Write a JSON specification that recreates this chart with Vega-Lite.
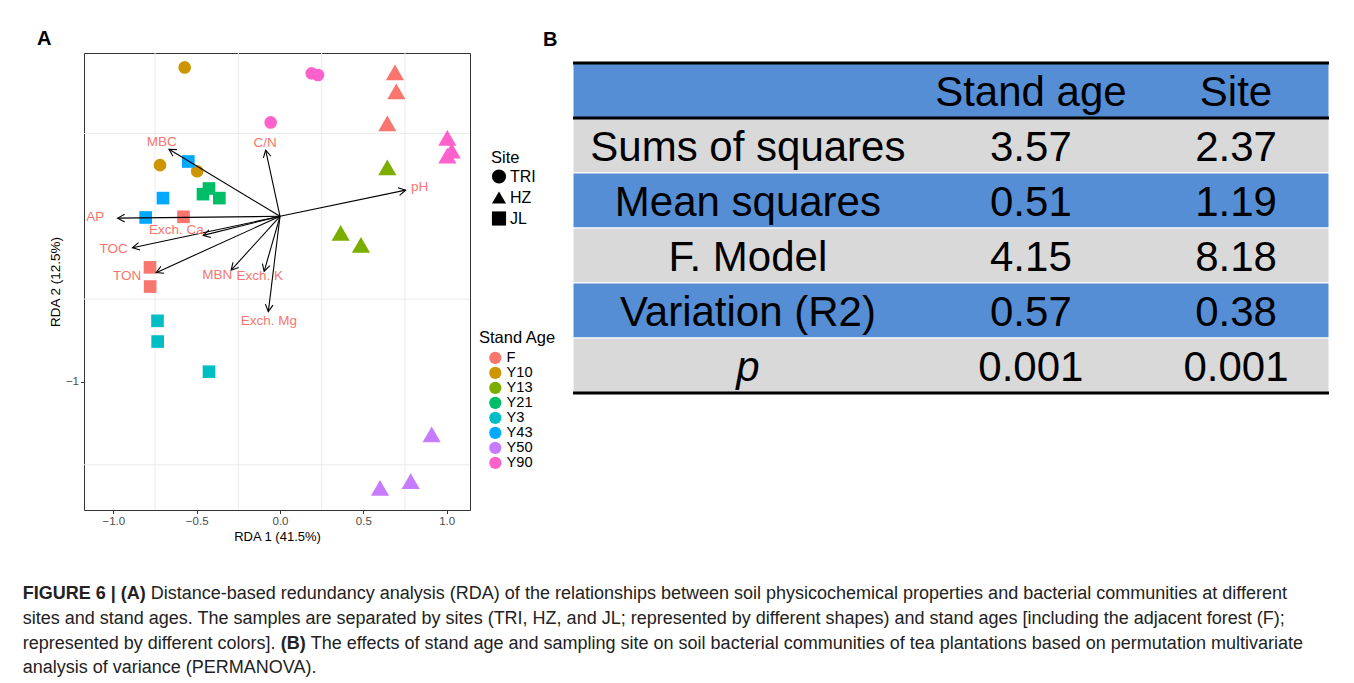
{
  "$schema": "https://vega.github.io/schema/vega-lite/v6.json",
  "padding": {"left": 22, "top": 28, "right": 0, "bottom": 0},
  "background": "white",
  "datasets": {
    "pts": [
      {"site": "TRI", "age": "Y10", "x": -0.572, "y": 0.899},
      {"site": "TRI", "age": "Y10", "x": -0.720, "y": 0.309},
      {"site": "TRI", "age": "Y10", "x": -0.497, "y": 0.272},
      {"site": "TRI", "age": "Y90", "x": 0.190, "y": 0.863},
      {"site": "TRI", "age": "Y90", "x": 0.228, "y": 0.853},
      {"site": "TRI", "age": "Y90", "x": -0.056, "y": 0.567},
      {"site": "HZ", "age": "F", "x": 0.690, "y": 0.869},
      {"site": "HZ", "age": "F", "x": 0.698, "y": 0.754},
      {"site": "HZ", "age": "F", "x": 0.644, "y": 0.561},
      {"site": "HZ", "age": "Y90", "x": 1.004, "y": 0.473},
      {"site": "HZ", "age": "Y90", "x": 1.030, "y": 0.396},
      {"site": "HZ", "age": "Y90", "x": 1.004, "y": 0.366},
      {"site": "HZ", "age": "Y13", "x": 0.644, "y": 0.295},
      {"site": "HZ", "age": "Y13", "x": 0.364, "y": -0.100},
      {"site": "HZ", "age": "Y13", "x": 0.486, "y": -0.172},
      {"site": "HZ", "age": "Y50", "x": 0.910, "y": -1.316},
      {"site": "HZ", "age": "Y50", "x": 0.784, "y": -1.598},
      {"site": "HZ", "age": "Y50", "x": 0.600, "y": -1.639},
      {"site": "JL", "age": "Y43", "x": -0.550, "y": 0.331},
      {"site": "JL", "age": "Y43", "x": -0.702, "y": 0.110},
      {"site": "JL", "age": "Y43", "x": -0.806, "y": -0.007},
      {"site": "JL", "age": "Y21", "x": -0.426, "y": 0.168},
      {"site": "JL", "age": "Y21", "x": -0.462, "y": 0.134},
      {"site": "JL", "age": "Y21", "x": -0.364, "y": 0.110},
      {"site": "JL", "age": "F", "x": -0.579, "y": -0.003},
      {"site": "JL", "age": "F", "x": -0.780, "y": -0.308},
      {"site": "JL", "age": "F", "x": -0.779, "y": -0.424},
      {"site": "JL", "age": "Y3", "x": -0.735, "y": -0.631},
      {"site": "JL", "age": "Y3", "x": -0.734, "y": -0.756},
      {"site": "JL", "age": "Y3", "x": -0.426, "y": -0.938}
    ],
    "arrows": [
      {"var": "MBC", "tx": -0.666, "ty": 0.405, "lx": -0.710, "ly": 0.446},
      {"var": "C/N", "tx": -0.086, "ty": 0.399, "lx": -0.089, "ly": 0.440},
      {"var": "pH", "tx": 0.754, "ty": 0.158, "lx": 0.838, "ly": 0.180},
      {"var": "AP", "tx": -0.974, "ty": -0.011, "lx": -1.109, "ly": -0.007},
      {"var": "Exch. Ca", "tx": -0.461, "ty": -0.115, "lx": -0.621, "ly": -0.083},
      {"var": "TOC", "tx": -0.885, "ty": -0.190, "lx": -0.998, "ly": -0.196},
      {"var": "TON", "tx": -0.743, "ty": -0.340, "lx": -0.917, "ly": -0.363},
      {"var": "MBN", "tx": -0.293, "ty": -0.325, "lx": -0.376, "ly": -0.353},
      {"var": "Exch. K", "tx": -0.095, "ty": -0.332, "lx": -0.122, "ly": -0.363},
      {"var": "Exch. Mg", "tx": -0.070, "ty": -0.575, "lx": -0.066, "ly": -0.631}
    ],
    "gx": [{"v": -0.75}, {"v": -0.25}, {"v": 0.25}, {"v": 0.75}],
    "gy": [{"v": 0.5}, {"v": -0.5}, {"v": -1.5}],
    "tbl": [
      {"row": "head", "col": "label", "text": ""},
      {"row": "head", "col": "Stand age", "text": "Stand age"},
      {"row": "head", "col": "Site", "text": "Site"},
      {"row": "Sums of squares", "col": "label", "text": "Sums of squares"},
      {"row": "Sums of squares", "col": "Stand age", "text": "3.57"},
      {"row": "Sums of squares", "col": "Site", "text": "2.37"},
      {"row": "Mean squares", "col": "label", "text": "Mean squares"},
      {"row": "Mean squares", "col": "Stand age", "text": "0.51"},
      {"row": "Mean squares", "col": "Site", "text": "1.19"},
      {"row": "F. Model", "col": "label", "text": "F. Model"},
      {"row": "F. Model", "col": "Stand age", "text": "4.15"},
      {"row": "F. Model", "col": "Site", "text": "8.18"},
      {"row": "Variation (R2)", "col": "label", "text": "Variation (R2)"},
      {"row": "Variation (R2)", "col": "Stand age", "text": "0.57"},
      {"row": "Variation (R2)", "col": "Site", "text": "0.38"},
      {"row": "p", "col": "label", "text": "p"},
      {"row": "p", "col": "Stand age", "text": "0.001"},
      {"row": "p", "col": "Site", "text": "0.001"}
    ],
    "cap": [
      {"line": 1, "seg": "b1", "text": "FIGURE 6 | (A)"},
      {"line": 1, "seg": "n1", "text": "Distance-based redundancy analysis (RDA) of the relationships between soil physicochemical properties and bacterial communities at different"},
      {"line": 2, "seg": "n0", "text": "sites and stand ages. The samples are separated by sites (TRI, HZ, and JL; represented by different shapes) and stand ages [including the adjacent forest (F);"},
      {"line": 3, "seg": "n0", "text": "represented by different colors]."},
      {"line": 3, "seg": "b2", "text": "(B)"},
      {"line": 3, "seg": "n2", "text": "The effects of stand age and sampling site on soil bacterial communities of tea plantations based on permutation multivariate"},
      {"line": 4, "seg": "n0", "text": "analysis of variance (PERMANOVA)."}
    ]
  },
  "concat": [
    {
      "width": 386,
      "height": 457,
      "view": {"stroke": "#333333", "strokeWidth": 1},
      "title": {"text": "A", "anchor": "start", "frame": "group", "dx": -47, "offset": -12.7, "baseline": "alphabetic", "fontSize": 20, "fontWeight": "bold", "color": "black"},
      "layer": [
        {
          "data": {"name": "gx"},
          "mark": {"type": "rule", "color": "#EBEBEB", "strokeWidth": 1},
          "encoding": {"x": {"field": "v", "type": "quantitative"}}
        },
        {
          "data": {"name": "gy"},
          "mark": {"type": "rule", "color": "#EBEBEB", "strokeWidth": 1},
          "encoding": {"y": {"field": "v", "type": "quantitative"}}
        },
        {
          "data": {"name": "pts"},
          "transform": [{"filter": "datum.site !== 'HZ'"}],
          "mark": {"type": "point", "filled": true, "opacity": 1, "size": 160},
          "encoding": {
            "x": {"field": "x", "type": "quantitative",
              "scale": {"domain": [-1.176, 1.14], "nice": false, "zero": false},
              "axis": {"title": "RDA 1 (41.5%)", "values": [-1, -0.5, 0, 0.5, 1], "format": ".1f", "grid": false, "domain": false, "tickSize": 3.5, "tickColor": "#333333", "labelFontSize": 11.5, "labelColor": "#4D4D4D", "labelPadding": 2, "titleFontSize": 13, "titleFontWeight": "normal", "titleColor": "black", "titlePadding": 3}},
            "y": {"field": "y", "type": "quantitative",
              "scale": {"domain": [-1.773, 0.986], "nice": false, "zero": false},
              "axis": {"title": "RDA 2 (12.5%)", "values": [-1], "format": "d", "grid": false, "domain": false, "tickSize": 3.5, "tickColor": "#333333", "labelFontSize": 11.5, "labelColor": "#4D4D4D", "labelPadding": 2, "titleFontSize": 13.5, "titleFontWeight": "normal", "titleColor": "black", "titlePadding": 3}},
            "color": {"field": "age", "type": "nominal",
              "scale": {"domain": ["F", "Y10", "Y13", "Y21", "Y3", "Y43", "Y50", "Y90"], "range": ["#F8766D", "#CD9600", "#7CAE00", "#00BE67", "#00BFC4", "#00A9FF", "#C77CFF", "#FF61CC"]},
              "legend": {"title": "Stand Age", "orient": "none", "legendX": 395, "legendY": 277, "titleFontSize": 16.5, "titleFontWeight": "normal", "titleColor": "black", "titlePadding": 4, "labelFontSize": 14.6, "labelColor": "black", "symbolType": "circle", "symbolSize": 150, "symbolOpacity": 1, "symbolStrokeWidth": 0, "symbolOffset": 9, "rowPadding": 0, "labelOffset": 4}},
            "shape": {"field": "site", "type": "nominal",
              "scale": {"domain": ["TRI", "HZ", "JL"], "range": ["circle", "triangle-up", "square"]},
              "legend": {"title": "Site", "orient": "none", "legendX": 407, "legendY": 97, "titleFontSize": 16.5, "titleFontWeight": "normal", "titleColor": "black", "titlePadding": 2, "labelFontSize": 16, "labelColor": "black", "symbolFillColor": "black", "symbolStrokeColor": "black", "symbolSize": 200, "symbolOpacity": 1, "rowPadding": 0, "labelOffset": 3}}
          }
        },
        {
          "data": {"name": "pts"},
          "transform": [{"filter": "datum.site === 'HZ'"}],
          "mark": {"type": "point", "filled": true, "opacity": 1, "size": 330},
          "encoding": {
            "x": {"field": "x", "type": "quantitative"},
            "y": {"field": "y", "type": "quantitative"},
            "color": {"field": "age", "type": "nominal"},
            "shape": {"field": "site", "type": "nominal"}
          }
        },
        {
          "data": {"name": "arrows"},
          "mark": {"type": "rule", "color": "black", "strokeWidth": 1.1},
          "encoding": {
            "x": {"field": "tx", "type": "quantitative"},
            "y": {"field": "ty", "type": "quantitative"},
            "x2": {"datum": 0},
            "y2": {"datum": 0}
          }
        },
        {
          "data": {"name": "arrows"},
          "transform": [{"calculate": "atan2(datum.tx, datum.ty) * 180 / PI", "as": "ang"}],
          "mark": {"type": "point", "shape": "M -0.55 1 L 0 0 L 0.55 1", "filled": false, "stroke": "black", "strokeWidth": 1.1, "size": 196, "opacity": 1},
          "encoding": {
            "x": {"field": "tx", "type": "quantitative"},
            "y": {"field": "ty", "type": "quantitative"},
            "angle": {"field": "ang", "type": "quantitative", "scale": null}
          }
        },
        {
          "data": {"name": "arrows"},
          "mark": {"type": "text", "color": "#F8766D", "fontSize": 13.5, "align": "center", "baseline": "middle"},
          "encoding": {
            "x": {"field": "lx", "type": "quantitative"},
            "y": {"field": "ly", "type": "quantitative"},
            "text": {"field": "var"}
          }
        }
      ]
    },
    {
      "width": 756,
      "height": 340,
      "data": {"name": "tbl"},
      "title": {"text": "B", "anchor": "start", "frame": "group", "dx": -30, "offset": -12.7, "baseline": "alphabetic", "fontSize": 20, "fontWeight": "bold", "color": "black"},
      "encoding": {
        "y": {"field": "row", "type": "nominal",
          "scale": {"domain": ["head", "Sums of squares", "Mean squares", "F. Model", "Variation (R2)", "p"], "paddingInner": 0, "paddingOuter": 0.0909, "align": 1},
          "axis": null}
      },
      "layer": [
        {
          "transform": [{"filter": "datum.col === 'label'"}],
          "mark": {"type": "rect", "stroke": "white", "strokeWidth": 1},
          "encoding": {
            "fill": {"condition": {"test": "datum.row === 'head' || datum.row === 'Mean squares' || datum.row === 'Variation (R2)'", "value": "#558ED5"}, "value": "#D9D9D9"}
          }
        },
        {
          "transform": [{"filter": "datum.col === 'label' && datum.row === 'head'"}],
          "mark": {"type": "rule", "color": "black", "strokeWidth": 3},
          "encoding": {"y": {"field": "row", "type": "nominal", "bandPosition": 0}}
        },
        {
          "transform": [{"filter": "datum.col === 'label' && datum.row === 'head'"}],
          "mark": {"type": "rule", "color": "black", "strokeWidth": 3},
          "encoding": {"y": {"field": "row", "type": "nominal", "bandPosition": 1}}
        },
        {
          "transform": [{"filter": "datum.col === 'label' && datum.row === 'p'"}],
          "mark": {"type": "rule", "color": "black", "strokeWidth": 3},
          "encoding": {"y": {"field": "row", "type": "nominal", "bandPosition": 1}}
        },
        {
          "transform": [{"filter": "datum.col === 'label' && datum.row !== 'p'"}],
          "mark": {"type": "text", "fontSize": 42, "color": "black", "align": "center", "baseline": "middle", "dy": 2.5},
          "encoding": {
            "x": {"field": "col", "type": "nominal", "scale": {"type": "band", "domain": ["label", "Stand age", "Site"], "paddingInner": 0, "paddingOuter": 0}, "bandPosition": 0.694, "axis": null},
            "text": {"field": "text"}
          }
        },
        {
          "transform": [{"filter": "datum.col === 'label' && datum.row === 'p'"}],
          "mark": {"type": "text", "fontSize": 42, "fontStyle": "italic", "color": "black", "align": "center", "baseline": "middle", "dy": 2.5},
          "encoding": {
            "x": {"field": "col", "type": "nominal", "bandPosition": 0.694, "axis": null},
            "text": {"field": "text"}
          }
        },
        {
          "transform": [{"filter": "datum.col === 'Stand age'"}],
          "mark": {"type": "text", "fontSize": 42, "color": "black", "align": "center", "baseline": "middle", "dy": 2.5},
          "encoding": {
            "x": {"field": "col", "type": "nominal", "bandPosition": 0.817, "axis": null},
            "text": {"field": "text"}
          }
        },
        {
          "transform": [{"filter": "datum.col === 'Site'"}],
          "mark": {"type": "text", "fontSize": 42, "color": "black", "align": "center", "baseline": "middle", "dy": 2.5},
          "encoding": {
            "x": {"field": "col", "type": "nominal", "bandPosition": 0.631, "axis": null},
            "text": {"field": "text"}
          }
        }
      ]
    },
    {
      "width": 300,
      "height": 74.4,
      "data": {"name": "cap"},
      "encoding": {
        "y": {"field": "line", "type": "ordinal", "scale": {"type": "point", "padding": 0}, "axis": null},
        "x": {"value": 0},
        "text": {"field": "text"}
      },
      "layer": [
        {
          "transform": [{"filter": "datum.seg === 'b1'"}],
          "mark": {"type": "text", "align": "left", "baseline": "alphabetic", "fontSize": 18, "fontWeight": "bold", "color": "#222222", "dx": -61.3}
        },
        {
          "transform": [{"filter": "datum.seg === 'n1'"}],
          "mark": {"type": "text", "align": "left", "baseline": "alphabetic", "fontSize": 18, "color": "#222222", "dx": 66.7}
        },
        {
          "transform": [{"filter": "datum.seg === 'n0'"}],
          "mark": {"type": "text", "align": "left", "baseline": "alphabetic", "fontSize": 18, "color": "#222222", "dx": -61.3}
        },
        {
          "transform": [{"filter": "datum.seg === 'b2'"}],
          "mark": {"type": "text", "align": "left", "baseline": "alphabetic", "fontSize": 18, "fontWeight": "bold", "color": "#222222", "dx": 196.7}
        },
        {
          "transform": [{"filter": "datum.seg === 'n2'"}],
          "mark": {"type": "text", "align": "left", "baseline": "alphabetic", "fontSize": 18, "color": "#222222", "dx": 226.7}
        }
      ]
    }
  ],
  "columns": 2,
  "align": "none",
  "bounds": "flush",
  "spacing": {"row": 89, "column": 103},
  "config": {
    "font": "Liberation Sans",
    "view": {"stroke": null},
    "title": {"font": "Liberation Sans"}
  }
}
